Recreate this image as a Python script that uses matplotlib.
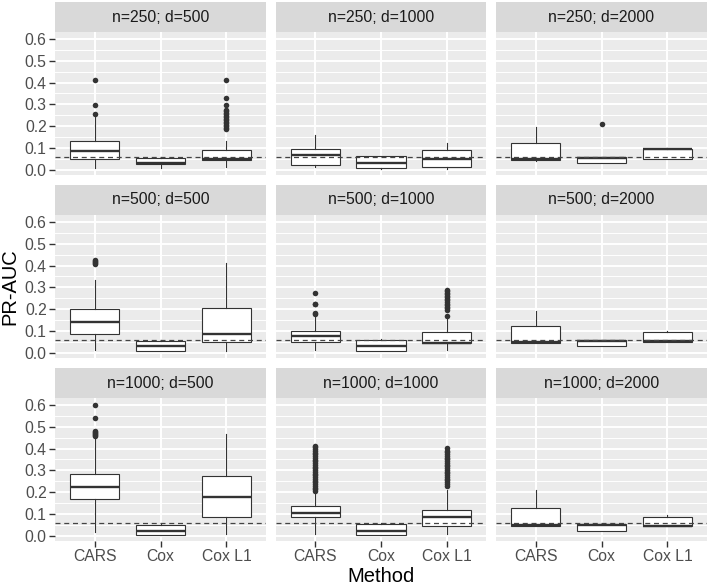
import matplotlib
matplotlib.use("Agg")
import matplotlib.pyplot as plt
from matplotlib.ticker import MultipleLocator

methods = ["CARS", "Cox", "Cox L1"]
panel_titles = ["n=250; d=500", "n=250; d=1000", "n=250; d=2000",
                "n=500; d=500", "n=500; d=1000", "n=500; d=2000",
                "n=1000; d=500", "n=1000; d=1000", "n=1000; d=2000"]
baseline = 0.06

q1 = [[0.049, 0.028, 0.043], [0.023, 0.008, 0.012], [0.046, 0.029, 0.050],
      [0.084, 0.006, 0.049], [0.049, 0.008, 0.043], [0.047, 0.029, 0.051],
      [0.170, 0.005, 0.088], [0.085, 0.003, 0.043], [0.047, 0.024, 0.044]]
med = [[0.084, 0.030, 0.049], [0.069, 0.031, 0.049], [0.049, 0.055, 0.094],
       [0.141, 0.029, 0.087], [0.078, 0.032, 0.045], [0.049, 0.055, 0.053],
       [0.223, 0.024, 0.180], [0.105, 0.023, 0.088], [0.049, 0.050, 0.046]]
q3 = [[0.130, 0.056, 0.090], [0.093, 0.061, 0.092], [0.121, 0.058, 0.096],
      [0.201, 0.055, 0.207], [0.098, 0.060, 0.093], [0.124, 0.060, 0.093],
      [0.284, 0.050, 0.276], [0.137, 0.053, 0.120], [0.128, 0.054, 0.088]]
whislo = [[0.010, 0.008, 0.012], [0.012, 0.005, 0.005], [0.042, 0.029, 0.050],
          [0.011, 0.006, 0.006], [0.011, 0.008, 0.011], [0.045, 0.029, 0.051],
          [0.017, 0.005, 0.006], [0.009, 0.003, 0.006], [0.047, 0.024, 0.044]]
whishi = [[0.245, 0.060, 0.133], [0.160, 0.064, 0.122], [0.194, 0.058, 0.098],
          [0.336, 0.060, 0.413], [0.170, 0.062, 0.165], [0.193, 0.060, 0.098],
          [0.452, 0.058, 0.467], [0.200, 0.058, 0.210], [0.208, 0.054, 0.096]]

outliers = [
    [[0.254, 0.295, 0.411], [],
     [0.185, 0.192, 0.199, 0.206, 0.213, 0.220, 0.227, 0.234, 0.241, 0.248,
      0.255, 0.262, 0.269, 0.276, 0.295, 0.327, 0.411]],
    [[], [], []],
    [[], [0.211], []],
    [[0.405, 0.410, 0.415, 0.420, 0.425], [], []],
    [[0.178, 0.182, 0.222, 0.226, 0.272], [],
     [0.170, 0.198, 0.205, 0.212, 0.219, 0.226, 0.233, 0.240, 0.247, 0.254,
      0.261, 0.268, 0.275, 0.282, 0.287]],
    [[], [], []],
    [[0.459, 0.463, 0.467, 0.471, 0.475, 0.479, 0.542, 0.600], [], []],
    [[0.205, 0.213, 0.221, 0.229, 0.237, 0.245, 0.253, 0.261, 0.269, 0.277,
      0.285, 0.293, 0.301, 0.309, 0.317, 0.325, 0.333, 0.341, 0.349, 0.357,
      0.365, 0.373, 0.381, 0.389, 0.397, 0.405, 0.414], [],
     [0.230, 0.238, 0.246, 0.254, 0.262, 0.270, 0.278, 0.286, 0.294, 0.302,
      0.310, 0.318, 0.326, 0.334, 0.342, 0.350, 0.358, 0.366, 0.374, 0.382,
      0.390, 0.403]],
    [[], [], []],
]

W, H = 709, 585
fig = plt.figure(figsize=(W / 100, H / 100), dpi=100)
FONT = "Liberation Sans"
plt.rcParams["font.family"] = [FONT, "DejaVu Sans"]

col_x = [(55, 266), (276, 486), (496, 707)]
row_y = [(2, 32, 175), (185, 215, 358), (368, 398, 541)]


def px_axes(x0, x1, y0, y1):
    return fig.add_axes([x0 / W, 1 - y1 / H, (x1 - x0) / W, (y1 - y0) / H])


edge = "#333333"
for i in range(9):
    r, c = divmod(i, 3)
    x0, x1 = col_x[c]
    s0, s1, p1 = row_y[r]
    # strip
    sax = px_axes(x0, x1, s0, s1)
    sax.set_facecolor("#D9D9D9")
    sax.set_xticks([]); sax.set_yticks([])
    for sp in sax.spines.values():
        sp.set_visible(False)
    sax.text(0.5, 0.5, panel_titles[i], ha="center", va="center",
             fontsize=11.3, color="#1A1A1A", transform=sax.transAxes)
    # panel
    ax = px_axes(x0, x1, s1, p1)
    ax.set_facecolor("#EBEBEB")
    for sp in ax.spines.values():
        sp.set_visible(False)
    ax.set_xlim(0.4, 3.6)
    ax.set_ylim(-0.024, 0.632)
    ax.yaxis.set_major_locator(MultipleLocator(0.1))
    ax.yaxis.set_minor_locator(MultipleLocator(0.05))
    ax.set_xticks([1, 2, 3])
    ax.grid(which="major", color="white", lw=1.4, zorder=0)
    ax.grid(which="minor", axis="y", color="white", lw=0.7, zorder=0)
    ax.set_axisbelow(True)
    ax.tick_params(which="minor", length=0)
    ax.tick_params(which="major", length=4, width=1, color=edge,
                   labelcolor="#4D4D4D", labelsize=11.3, pad=2)
    if c == 0:
        ax.set_yticklabels([f"{v:.1f}" for v in ax.get_yticks()])
    else:
        ax.tick_params(axis="y", length=0, labelleft=False)
    if r == 2:
        ax.set_xticklabels(methods)
    else:
        ax.tick_params(axis="x", length=0, labelbottom=False)

    stats = []
    for j, m in enumerate(methods):
        stats.append(dict(label=m, whislo=whislo[i][j], q1=q1[i][j], med=med[i][j],
                          q3=q3[i][j], whishi=whishi[i][j], fliers=outliers[i][j]))
    ax.bxp(stats, positions=[1, 2, 3], widths=0.75, patch_artist=True,
           showcaps=False, manage_ticks=False,
           boxprops=dict(facecolor="white", edgecolor=edge, lw=0.8),
           medianprops=dict(color=edge, lw=1.7),
           whiskerprops=dict(color=edge, lw=0.8),
           flierprops=dict(marker="o", markerfacecolor=edge, markeredgecolor="none",
                           markersize=4.0))
    ax.axhline(baseline, color="#444444", lw=0.9, ls=(0, (4, 3)), zorder=5)

fig.text(9.5 / W, 1 - 287 / H, "PR-AUC", rotation=90, ha="center", va="center",
         fontsize=14.5, color="black")
fig.text(381 / W, 1 - 576 / H, "Method", ha="center", va="center",
         fontsize=14.5, color="black")

fig.savefig("out.png", dpi=100)
